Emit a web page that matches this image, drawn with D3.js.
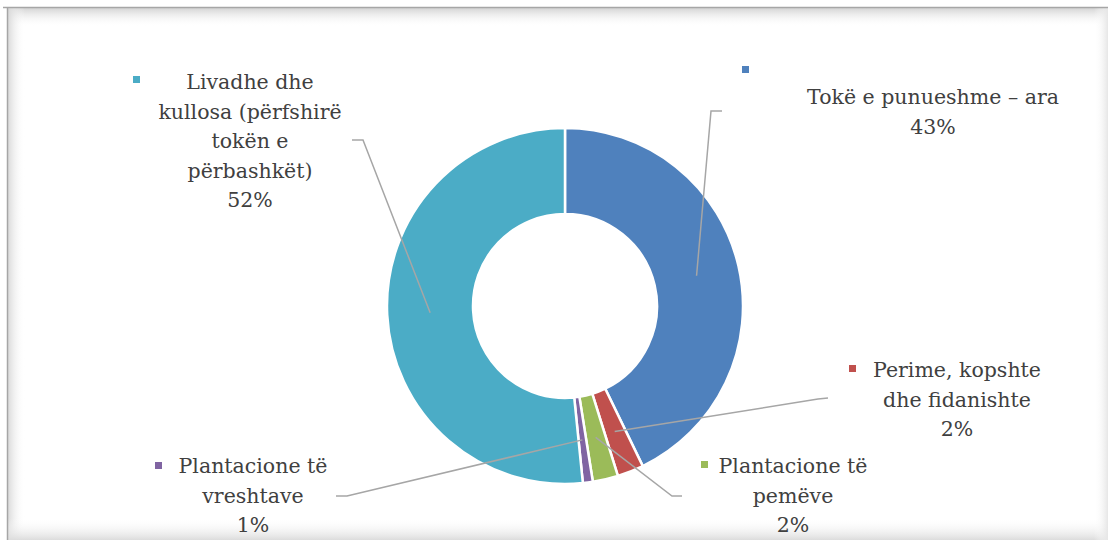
<!DOCTYPE html>
<html>
<head>
<meta charset="utf-8">
<script src="https://cdn.jsdelivr.net/npm/d3@7"></script>
<style>
  html, body { margin: 0; padding: 0; background: #ffffff; }
  svg { display: block; }
</style>
</head>
<body>
<svg id="chart" width="1108" height="540"></svg>
<script>
// ---- data ----
const categories = [
  "Tokë e punueshme – ara",
  "Perime, kopshte dhe fidanishte",
  "Plantacione të pemëve",
  "Plantacione të vreshtave",
  "Livadhe dhe kullosa (përfshirë tokën e përbashkët)"
];
const values = [42.8, 2.4, 2.3, 0.9, 51.6];
const colors = ["#4F81BD", "#C0504D", "#9BBB59", "#8064A2", "#4BACC6"];
// label lines as shown in the chart (category text wrapped)
const labelLines = [
  ["Tokë e punueshme – ara"],
  ["Perime, kopshte", "dhe fidanishte"],
  ["Plantacione të", "pemëve"],
  ["Plantacione të", "vreshtave"],
  ["Livadhe dhe", "kullosa (përfshirë", "tokën e", "përbashkët)"]
];

// ---- layout (positions only) ----
const W = 1108, H = 540;
const cx = 565, cy = 306, rOuter = 178, rInner = 92;
const fontFamily = "'DejaVu Serif', serif";
const fontSize = 20.5;
const lineH = 29.5;
const labelLayout = [
  { textX: 933, firstBase: 104, markerX: 742, markerY: 66, elbow: [711, 111], end: [722, 111] },
  { textX: 957, firstBase: 377, markerX: 849, markerY: 365, elbow: [818, 399], end: [828, 398] },
  { textX: 793, firstBase: 473, markerX: 701, markerY: 461, elbow: [672, 496], end: [682, 496] },
  { textX: 253, firstBase: 473, markerX: 155, markerY: 462, elbow: [347, 496], end: [336, 496] },
  { textX: 250, firstBase: 89,  markerX: 133, markerY: 76,  elbow: [363, 140], end: [352, 140] }
];

const svg = d3.select("#chart");

// ---- frame with soft inner shadow ----
const defs = svg.append("defs");
function grad(id, x1, y1, x2, y2, c1, o1, c2, o2) {
  const g = defs.append("linearGradient").attr("id", id)
    .attr("x1", x1).attr("y1", y1).attr("x2", x2).attr("y2", y2);
  g.append("stop").attr("offset", "0%").attr("stop-color", c1).attr("stop-opacity", o1);
  g.append("stop").attr("offset", "100%").attr("stop-color", c2).attr("stop-opacity", o2);
}
grad("gTop", 0, 0, 0, 1, "#cfcfcf", 1, "#ffffff", 0);
grad("gLeft", 0, 0, 1, 0, "#d6d6d6", 1, "#ffffff", 0);
grad("gBottom", 0, 1, 0, 0, "#dcdcdc", 1, "#ffffff", 0);
grad("gRight", 1, 0, 0, 0, "#e6e6e6", 1, "#ffffff", 0);

svg.append("rect").attr("x", 7).attr("y", 7).attr("width", W - 7).attr("height", H - 7).attr("fill", "#ffffff");
svg.append("rect").attr("x", 7).attr("y", 7).attr("width", W - 7).attr("height", 20).attr("fill", "url(#gTop)");
svg.append("rect").attr("x", 7).attr("y", 7).attr("width", 18).attr("height", H - 7).attr("fill", "url(#gLeft)");
svg.append("rect").attr("x", 7).attr("y", H - 22).attr("width", W - 7).attr("height", 22).attr("fill", "url(#gBottom)");
svg.append("rect").attr("x", W - 14).attr("y", 7).attr("width", 14).attr("height", H - 7).attr("fill", "url(#gRight)");
svg.append("line").attr("x1", 3).attr("x2", W).attr("y1", 7.5).attr("y2", 7.5).attr("stroke", "#a6a6a6").attr("stroke-width", 1.5);
svg.append("line").attr("x1", 7.5).attr("x2", 7.5).attr("y1", 7).attr("y2", H).attr("stroke", "#a6a6a6").attr("stroke-width", 1.5);

// ---- donut ----
const pie = d3.pie().sort(null).value(d => d)(values);
const arc = d3.arc().innerRadius(rInner).outerRadius(rOuter);
const g = svg.append("g").attr("transform", `translate(${cx},${cy})`);

g.selectAll("path.slice").data(pie).join("path")
  .attr("class", "slice")
  .attr("d", arc)
  .attr("fill", (d, i) => colors[i])
  .attr("stroke", "#ffffff")
  .attr("stroke-width", 2.5)
  .attr("stroke-linejoin", "miter");

// ---- leader lines ----
const lines = svg.append("g");
pie.forEach((d, i) => {
  const c = arc.centroid(d);
  const L = labelLayout[i];
  lines.append("polyline")
    .attr("points", `${cx + c[0]},${cy + c[1]} ${L.elbow[0]},${L.elbow[1]} ${L.end[0]},${L.end[1]}`)
    .attr("fill", "none")
    .attr("stroke", "#a6a6a6")
    .attr("stroke-width", 1.5);
});

// ---- labels ----
const labels = svg.append("g")
  .attr("font-family", fontFamily)
  .attr("font-size", fontSize)
  .attr("fill", "#404040");

pie.forEach((d, i) => {
  const L = labelLayout[i];
  svg.append("rect")
    .attr("x", L.markerX).attr("y", L.markerY)
    .attr("width", 7).attr("height", 7)
    .attr("fill", colors[i]);
  const t = labels.append("text").attr("text-anchor", "middle");
  const lns = labelLines[i].concat([Math.round(values[i]) + "%"]);
  lns.forEach((s, k) => {
    t.append("tspan").attr("x", L.textX).attr("y", L.firstBase + k * lineH).text(s);
  });
});
</script>
</body>
</html>
